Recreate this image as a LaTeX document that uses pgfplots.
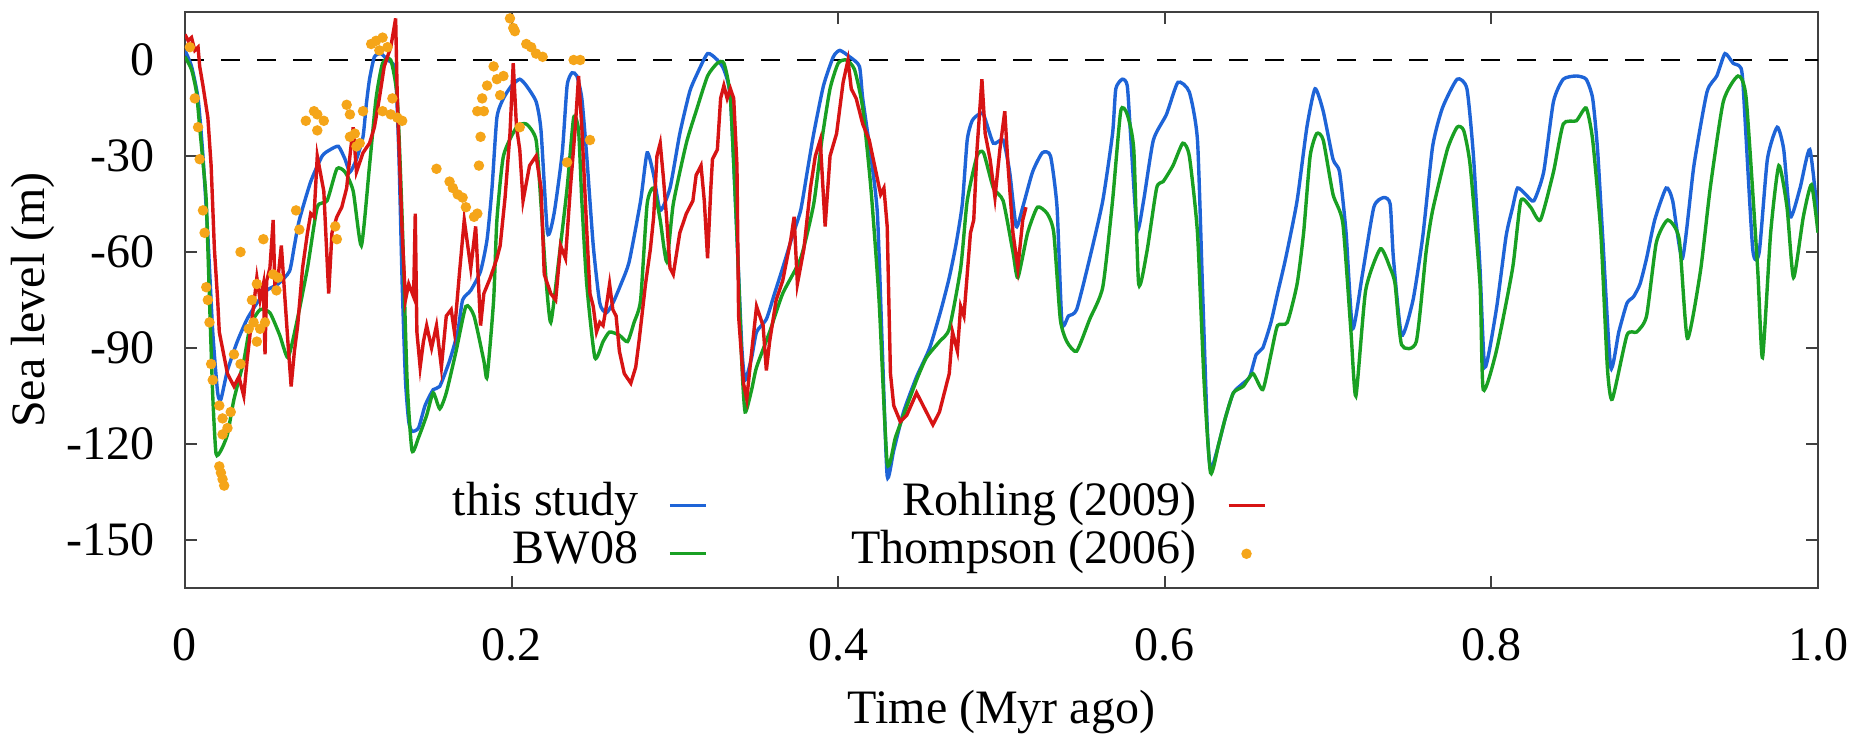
\documentclass[border=0pt]{standalone}
\usepackage{pgfplots}
\pgfplotsset{compat=1.18}
\usepackage{fontspec}
\setmainfont{Liberation Serif}

\definecolor{cblue}{RGB}{30,100,215}
\definecolor{cgreen}{RGB}{25,160,35}
\definecolor{cred}{RGB}{215,20,20}
\definecolor{corange}{RGB}{245,165,25}

\begin{document}
\begin{tikzpicture}[font=\fontsize{12}{14.4}\selectfont]
\begin{axis}[
    at={(0pt,0pt)}, anchor=south west,
    scale only axis, width=408.25pt, height=144pt,
    xmin=0, xmax=1, ymin=-165, ymax=15,
    xtick={0,0.2,0.4,0.6,0.8,1},
    xticklabels={0,0.2,0.4,0.6,0.8,1.0},
    ytick={-150,-120,-90,-60,-30,0},
    yticklabels={-150,-120,-90,-60,-30,0},
    tick align=inside, tick pos=both, ticklabel pos=left,
    major tick length=3pt,
    axis line style={draw=black!75, line width=0.5pt},
    every tick/.style={black!75, line width=0.5pt},
    xticklabel style={anchor=base, inner sep=0pt, yshift=-18pt},
    yticklabel style={anchor=east, inner sep=0pt, xshift=-7.5pt},
    xlabel={Time (Myr ago)},
    ylabel={Sea level (m)},
    xlabel style={at={(axis description cs:0.5,0)}, anchor=base, yshift=-33.75pt, inner sep=0pt},
    ylabel style={at={(axis description cs:-0.0931,0.5)}, anchor=center, inner sep=0pt},
    legend columns=2, legend cell align=right, legend plot pos=right,
    legend image code/.code={\draw[#1] (0pt,0pt) -- (9pt,0pt);},
    legend style={draw=none, fill=none, inner sep=0pt,
        at={(0.6626,0.1858)}, anchor=north east,
        nodes={inner sep=0pt, text height=8.5pt, text depth=3.5pt},
        row sep=0pt,
        /tikz/every odd column/.append style={column sep=7.5pt},
        /tikz/every even column/.append style={column sep=36pt}},
]

% zero line
\addplot[black, line width=0.6pt, dash pattern=on 4.75pt off 4.25pt, forget plot]
    coordinates {(0,0)(1,0)};

% this study
\addplot[cblue, line width=0.85pt, smooth, tension=0.35, forget plot] coordinates {
(0,3)(0.004,-2)(0.008,-12)(0.011,-30)(0.014,-55)(0.017,-85)(0.020,-104)(0.022,-106)
(0.026,-97)(0.032,-88)(0.038,-81)(0.044,-76)(0.050,-72)(0.057,-70)(0.064,-66)(0.067,-58)
(0.070,-50)(0.077,-38)(0.084,-30)(0.089,-28)(0.094,-27)(0.098,-31)(0.101,-35)(0.105,-31)
(0.109,-24)(0.111,-14)(0.113,-6)(0.116,1)(0.120,2)(0.124,0)(0.127,-1)(0.129,-4)
(0.131,-30)(0.133,-70)(0.135,-100)(0.137,-113)(0.139,-116)(0.143,-115)(0.147,-108)(0.152,-103)
(0.156,-102)(0.162,-94)(0.167,-85)(0.170,-75)(0.175,-72)(0.181,-66)(0.185,-56)(0.188,-40)
(0.191,-18)(0.195,-12)(0.200,-8)(0.205,-6)(0.209,-8)(0.215,-13)(0.218,-22)(0.222,-54)
(0.226,-48)(0.231,-29)(0.234,-8)(0.237,-4)(0.240,-5)(0.243,-12)(0.246,-30)(0.250,-58)
(0.254,-76)(0.258,-79)(0.262,-76)(0.267,-70)(0.272,-63)(0.279,-44)(0.283,-29)(0.287,-36)
(0.291,-47)(0.297,-40)(0.303,-23)(0.309,-10)(0.313,-5)(0.320,2)(0.326,0)(0.330,-3)
(0.334,-12)(0.338,-55)(0.341,-90)(0.343,-100)(0.347,-93)(0.350,-85)(0.356,-81)(0.361,-73)
(0.366,-65)(0.372,-55)(0.377,-47)(0.381,-35)(0.385,-23)(0.391,-8)(0.397,1)(0.401,3)
(0.407,1)(0.413,-2)(0.415,-12)(0.420,-30)(0.424,-48)(0.427,-90)(0.430,-130)(0.434,-122)
(0.440,-110)(0.448,-99)(0.456,-90)(0.463,-78)(0.468,-68)(0.472,-58)(0.476,-45)(0.479,-25)
(0.482,-19)(0.486,-17)(0.489,-17)(0.495,-26)(0.501,-25)(0.505,-35)(0.509,-52)(0.513,-46)
(0.519,-35)(0.525,-29)(0.530,-30)(0.534,-46)(0.537,-82)(0.541,-80)(0.546,-78)(0.554,-62)
(0.562,-44)(0.568,-23)(0.570,-9)(0.574,-6)(0.577,-8)(0.579,-23)(0.583,-53)(0.587,-44)
(0.593,-25)(0.601,-17)(0.608,-7)(0.615,-10)(0.620,-25)(0.623,-70)(0.626,-115)(0.628,-128)
(0.632,-122)(0.637,-112)(0.642,-104)(0.648,-101)(0.652,-99)(0.656,-92)(0.660,-90)(0.665,-82)
(0.669,-73)(0.674,-62)(0.681,-44)(0.687,-21)(0.692,-9)(0.697,-16)(0.703,-31)(0.707,-35)
(0.711,-54)(0.715,-84)(0.721,-67)(0.728,-46)(0.734,-43)(0.738,-45)(0.740,-62)(0.745,-86)
(0.752,-75)(0.758,-55)(0.764,-27)(0.770,-15)(0.779,-6)(0.785,-9)(0.789,-30)(0.793,-65)
(0.796,-96)(0.803,-78)(0.809,-55)(0.813,-46)(0.816,-40)(0.821,-42)(0.826,-44)(0.832,-35)
(0.838,-13)(0.844,-6)(0.852,-5)(0.858,-6)(0.862,-12)(0.865,-28)(0.868,-54)(0.873,-96)
(0.878,-85)(0.883,-76)(0.887,-74)(0.891,-70)(0.895,-62)(0.900,-50)(0.907,-40)(0.911,-44)
(0.917,-62)(0.924,-33)(0.932,-10)(0.938,-5)(0.943,2)(0.948,-1)(0.952,-2)(0.954,-7)
(0.960,-59)(0.964,-60)(0.969,-31)(0.975,-21)(0.979,-28)(0.983,-49)(0.989,-40)(0.995,-28)
(1.000,-50)
};

% BW08
\addplot[cgreen, line width=0.85pt, smooth, tension=0.35, forget plot] coordinates {
(0,1)(0.004,-3)(0.007,-10)(0.009,-21)(0.011,-32)(0.013,-44)(0.015,-75)(0.017,-105)
(0.019,-123)(0.022,-122)(0.026,-117)(0.030,-106)(0.036,-94)(0.040,-83)(0.046,-78)(0.052,-79)
(0.058,-86)(0.063,-93)(0.068,-83)(0.075,-65)(0.081,-46)(0.087,-44)(0.093,-34)(0.098,-35)
(0.103,-41)(0.108,-58)(0.113,-33)(0.117,-12)(0.121,-1)(0.126,0)(0.130,-12)(0.133,-50)
(0.136,-100)(0.139,-122)(0.143,-118)(0.148,-111)(0.152,-104)(0.156,-109)(0.160,-104)(0.166,-91)
(0.172,-77)(0.177,-80)(0.183,-94)(0.185,-99)(0.189,-75)(0.191,-50)(0.195,-30)(0.203,-21)
(0.209,-20)(0.215,-25)(0.218,-45)(0.221,-68)(0.224,-82)(0.229,-62)(0.234,-40)(0.238,-18)
(0.241,-22)(0.243,-44)(0.246,-70)(0.251,-93)(0.256,-88)(0.260,-85)(0.266,-86)(0.271,-88)
(0.275,-82)(0.279,-75)(0.283,-45)(0.287,-40)(0.291,-50)(0.295,-63)(0.299,-45)(0.307,-26)
(0.313,-16)(0.320,-5)(0.326,-1)(0.330,-1)(0.334,-12)(0.338,-55)(0.341,-95)(0.343,-110)
(0.347,-103)(0.350,-96)(0.358,-85)(0.366,-73)(0.377,-62)(0.385,-45)(0.390,-25)(0.395,-9)
(0.400,-1)(0.405,0)(0.410,-3)(0.415,-15)(0.420,-40)(0.425,-75)(0.430,-126)(0.435,-118)
(0.440,-111)(0.448,-100)(0.454,-93)(0.462,-88)(0.468,-84)(0.475,-65)(0.479,-44)(0.485,-30)
(0.489,-29)(0.495,-40)(0.501,-44)(0.507,-60)(0.510,-68)(0.516,-54)(0.522,-46)(0.528,-48)
(0.532,-54)(0.536,-81)(0.540,-88)(0.546,-91)(0.554,-81)(0.562,-71)(0.568,-44)(0.573,-16)
(0.577,-17)(0.581,-28)(0.584,-70)(0.589,-60)(0.595,-40)(0.599,-38)(0.605,-33)(0.611,-26)
(0.615,-30)(0.620,-54)(0.624,-100)(0.628,-129)(0.633,-120)(0.637,-112)(0.642,-104)(0.648,-102)
(0.654,-98)(0.660,-103)(0.665,-92)(0.669,-83)(0.675,-82)(0.681,-70)(0.685,-54)(0.689,-30)
(0.693,-23)(0.697,-25)(0.703,-42)(0.709,-51)(0.714,-85)(0.717,-105)(0.723,-72)(0.732,-59)
(0.738,-65)(0.741,-70)(0.745,-89)(0.754,-88)(0.760,-60)(0.764,-47)(0.773,-28)(0.779,-21)
(0.783,-22)(0.787,-33)(0.793,-70)(0.795,-103)(0.803,-91)(0.813,-65)(0.818,-44)(0.824,-46)
(0.830,-50)(0.838,-35)(0.844,-20)(0.852,-19)(0.858,-15)(0.862,-25)(0.867,-54)(0.871,-96)
(0.874,-106)(0.883,-86)(0.889,-85)(0.895,-80)(0.901,-57)(0.908,-50)(0.915,-56)(0.920,-87)
(0.928,-66)(0.934,-40)(0.942,-13)(0.951,-5)(0.956,-12)(0.963,-65)(0.966,-93)(0.971,-54)
(0.976,-33)(0.981,-46)(0.985,-68)(0.991,-49)(0.996,-39)(1.000,-54)
};

% Rohling (2009)
\addplot[cred, line width=0.85pt, forget plot] coordinates {
(0,8)(0.002,6)(0.004,7)(0.006,3)(0.008,4)(0.009,-2)(0.011,-8)(0.014,-18)
(0.016,-33)(0.018,-59)(0.020,-75)(0.021,-85)(0.026,-98)(0.030,-102)(0.033,-99)(0.036,-105)
(0.038,-94)(0.040,-85)(0.042,-77)(0.044,-68)(0.046,-75)(0.048,-70)(0.049,-92)(0.050,-69)
(0.052,-65)(0.054,-50)(0.055,-70)(0.057,-68)(0.059,-58)(0.061,-73)(0.063,-88)(0.065,-102)
(0.067,-91)(0.069,-83)(0.072,-65)(0.075,-54)(0.077,-48)(0.079,-49)(0.081,-30)(0.085,-41)
(0.088,-73)(0.090,-54)(0.093,-49)(0.096,-46)(0.099,-40)(0.101,-30)(0.103,-21)(0.105,-35)
(0.109,-29)(0.113,-26)(0.116,-21)(0.119,-12)(0.122,-2)(0.126,4)(0.129,13)(0.130,-12)
(0.133,-54)(0.135,-75)(0.137,-70)(0.140,-74)(0.141,-48)(0.142,-85)(0.144,-96)(0.146,-88)
(0.148,-83)(0.151,-90)(0.154,-83)(0.157,-96)(0.160,-80)(0.163,-78)(0.165,-85)(0.168,-67)
(0.171,-50)(0.175,-65)(0.178,-52)(0.181,-83)(0.183,-73)(0.187,-68)(0.191,-62)(0.193,-58)
(0.196,-43)(0.199,-23)(0.201,-1)(0.203,-21)(0.205,-28)(0.207,-44)(0.211,-33)(0.215,-30)
(0.218,-40)(0.220,-67)(0.224,-73)(0.227,-75)(0.230,-58)(0.233,-62)(0.236,-40)(0.239,-21)
(0.241,-5)(0.243,-21)(0.246,-53)(0.248,-73)(0.250,-77)(0.252,-85)(0.254,-82)(0.256,-83)
(0.258,-77)(0.260,-70)(0.262,-78)(0.264,-80)(0.266,-91)(0.269,-98)(0.273,-101)(0.276,-96)
(0.278,-88)(0.280,-79)(0.282,-70)(0.285,-59)(0.287,-49)(0.289,-30)(0.291,-26)(0.293,-37)
(0.295,-50)(0.297,-65)(0.299,-67)(0.303,-54)(0.307,-48)(0.311,-44)(0.313,-36)(0.316,-33)
(0.318,-44)(0.320,-62)(0.322,-40)(0.323,-31)(0.326,-28)(0.328,-12)(0.330,-8)(0.332,-12)
(0.334,-9)(0.336,-12)(0.338,-33)(0.339,-80)(0.342,-101)(0.344,-106)(0.346,-96)(0.350,-77)
(0.354,-83)(0.356,-97)(0.358,-88)(0.362,-75)(0.366,-69)(0.371,-56)(0.373,-49)(0.375,-70)
(0.379,-59)(0.383,-40)(0.386,-30)(0.389,-25)(0.392,-52)(0.395,-30)(0.399,-23)(0.403,-7)
(0.406,0)(0.408,-9)(0.411,-12)(0.415,-20)(0.419,-25)(0.426,-42)(0.428,-40)(0.430,-52)
(0.432,-98)(0.434,-108)(0.438,-113)(0.442,-111)(0.448,-104)(0.454,-110)(0.458,-114)(0.462,-110)
(0.467,-100)(0.468,-98)(0.470,-85)(0.473,-91)(0.475,-77)(0.477,-80)(0.479,-67)(0.481,-54)
(0.483,-50)(0.485,-28)(0.488,-6)(0.490,-23)(0.493,-31)(0.496,-43)(0.499,-28)(0.502,-16)
(0.504,-33)(0.507,-54)(0.510,-65)(0.513,-50)(0.515,-46)
};

% Thompson (2006)
\addplot[only marks, mark=*, mark size=1.1pt, corange, forget plot] coordinates {
(0.003,4)(0.006,-12)(0.008,-21)(0.009,-31)(0.011,-47)(0.012,-54)(0.013,-71)(0.014,-75)
(0.015,-82)(0.016,-95)(0.017,-100)(0.021,-108)(0.023,-112)(0.023,-117)(0.026,-115)(0.028,-110)
(0.021,-127)(0.022,-129)(0.023,-131)(0.024,-133)(0.030,-92)(0.034,-95)(0.034,-60)(0.039,-84)
(0.041,-75)(0.042,-82)(0.044,-88)(0.044,-70)(0.046,-84)(0.048,-56)(0.049,-82)(0.054,-67)
(0.056,-72)(0.057,-68)(0.068,-47)(0.070,-53)(0.074,-19)(0.079,-16)(0.081,-17)(0.081,-22)
(0.085,-19)(0.092,-52)(0.093,-56)(0.099,-14)(0.101,-17)(0.101,-24)(0.104,-23)(0.105,-27)
(0.107,-26)(0.109,-16)(0.114,5)(0.117,6)(0.119,3)(0.121,7)(0.124,4)(0.121,-16)
(0.126,-17)(0.127,-12)(0.130,-18)(0.133,-19)(0.154,-34)(0.162,-38)(0.164,-40)(0.167,-42)
(0.170,-43)(0.172,-46)(0.177,-49)(0.179,-48)(0.179,-16)(0.180,-33)(0.181,-24)(0.182,-12)
(0.183,-16)(0.185,-8)(0.189,-2)(0.191,-6)(0.193,-11)(0.195,-5)(0.199,13)(0.201,10)
(0.202,9)(0.205,-21)(0.209,5)(0.212,4)(0.215,2)(0.219,1)(0.234,-32)(0.238,0)
(0.242,0)(0.248,-25)
};

% legend, filled row by row
\addlegendimage{cblue, line width=0.85pt}
\addlegendentry{this study}
\addlegendimage{cred, line width=0.85pt}
\addlegendentry{Rohling (2009)}
\addlegendimage{cgreen, line width=0.85pt}
\addlegendentry{BW08}
\addlegendimage{corange,
    legend image code/.code={\fill[corange] (4.5pt,0pt) circle[radius=1.1pt];}}
\addlegendentry{Thompson (2006)}

\end{axis}
\pgfresetboundingbox
\path[use as bounding box] (-46.25pt,-37.5pt) rectangle (418.75pt,147pt);
\end{tikzpicture}
\end{document}
